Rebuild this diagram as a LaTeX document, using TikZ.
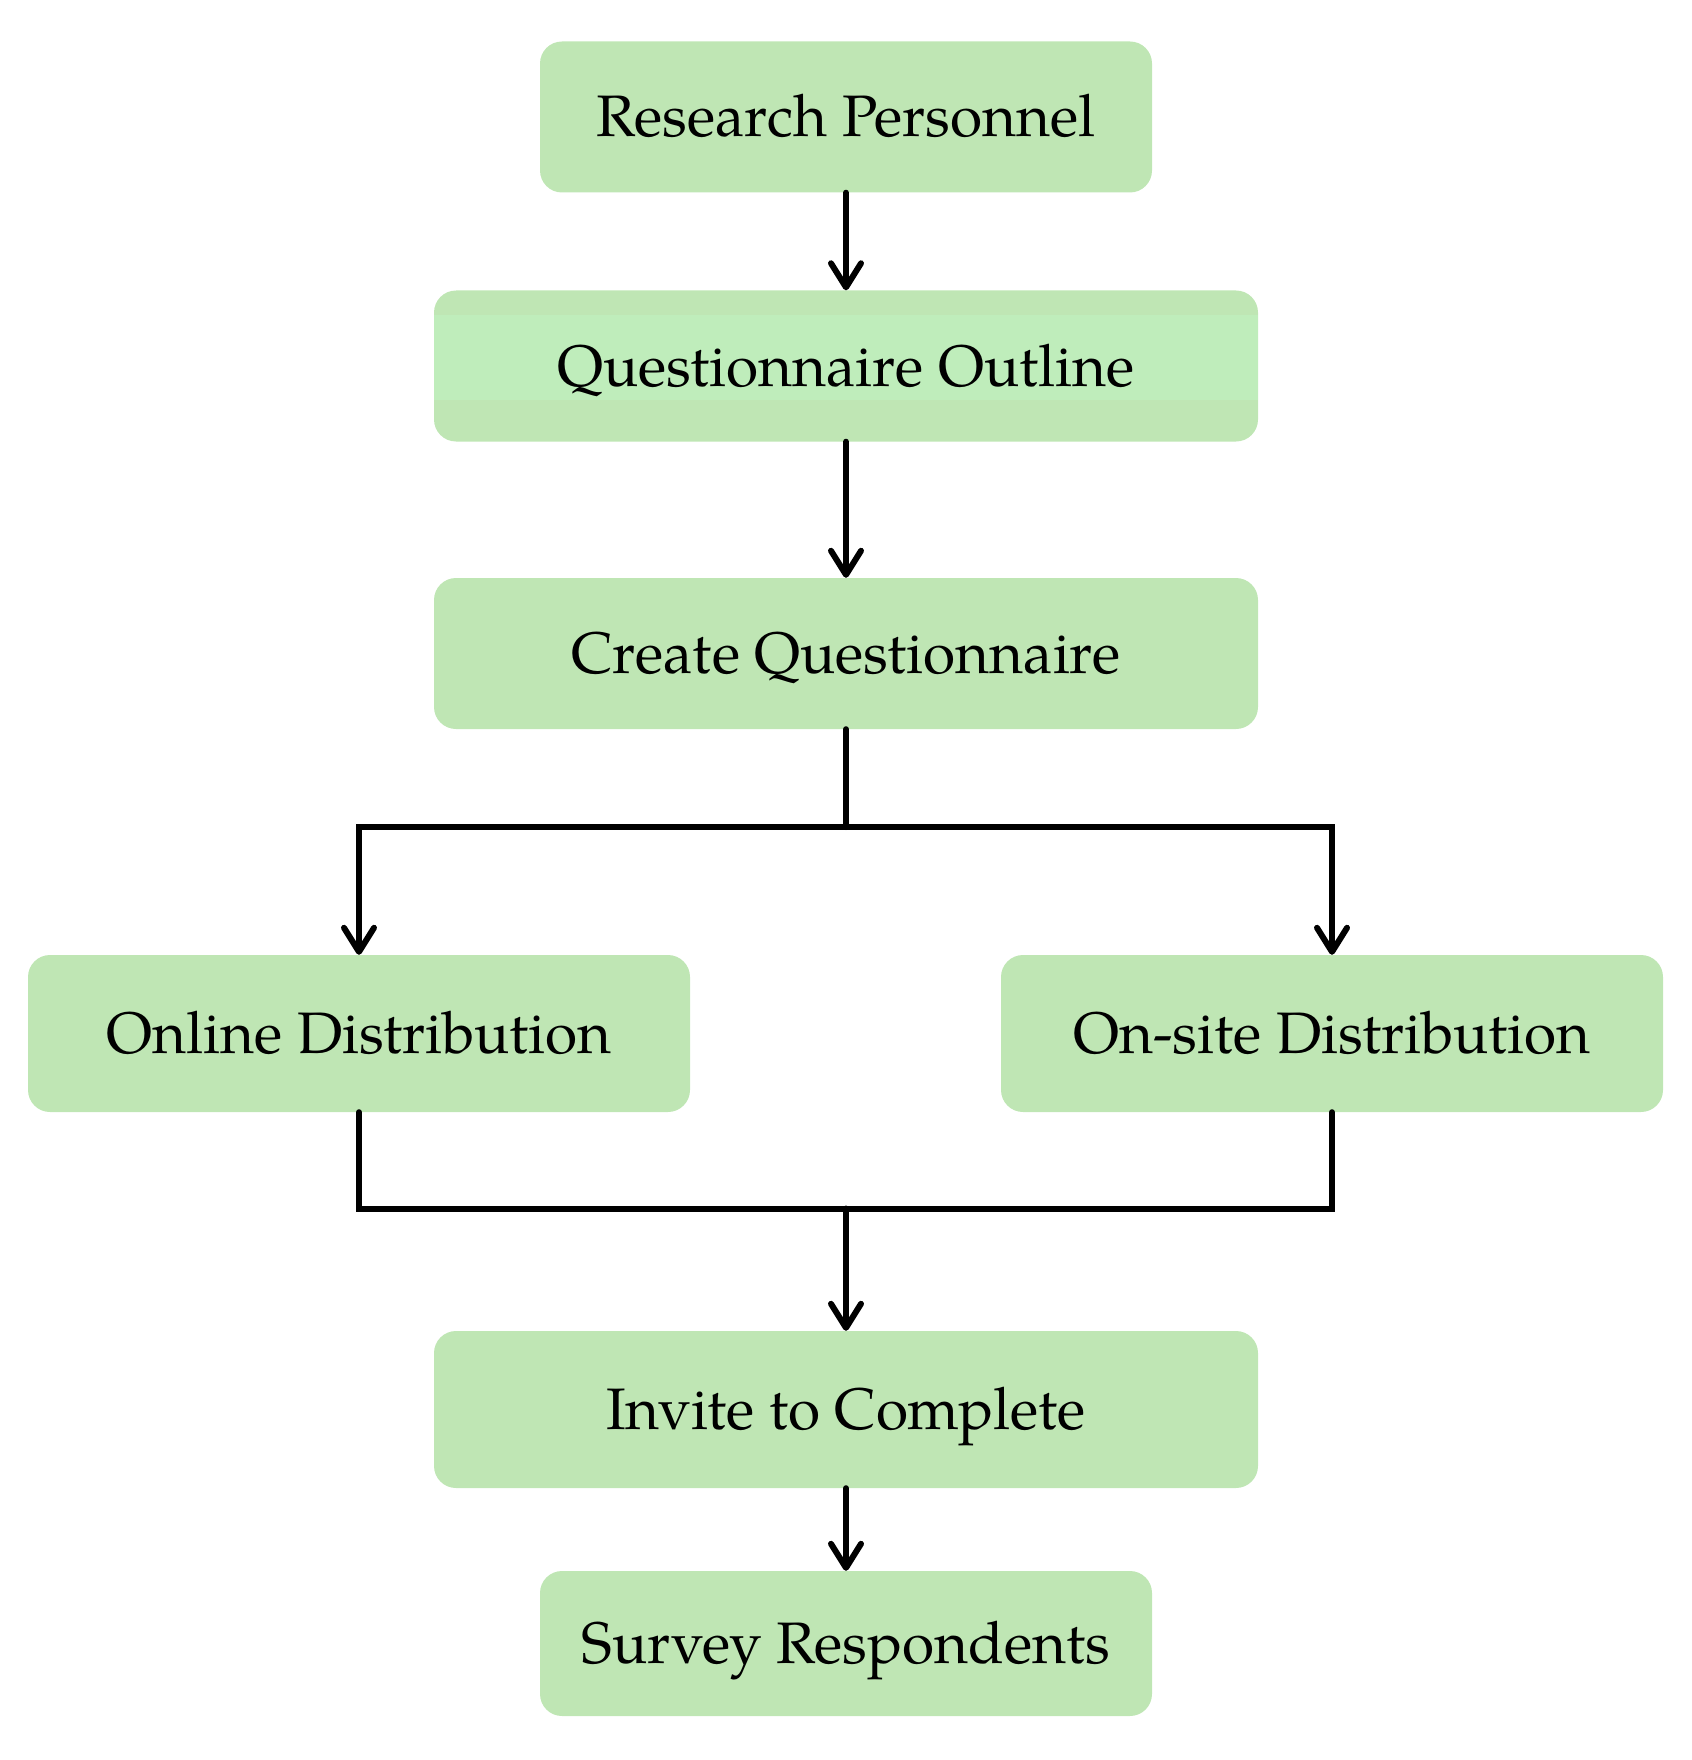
\documentclass[tikz,border=0pt]{standalone}
\usepackage{fontspec}
\setmainfont{TeX Gyre Pagella}
\usetikzlibrary{arrows.meta}
\definecolor{boxfill}{RGB}{191,230,180}
\definecolor{stripecol}{RGB}{191,237,187}
\tikzset{
  box/.style={fill=boxfill, rounded corners=22pt, inner sep=0pt, anchor=center,
    font=\fontsize{58.5}{68}\selectfont, text=black, text height=40pt, text depth=0pt},
  conn/.style={line width=6pt, draw=black, line cap=round, line join=miter},
  arr/.style={conn, -{Straight Barb[length=24pt,width=30pt,line width=6pt,round]}},
}
\begin{document}
\begin{tikzpicture}[x=1pt,y=-1pt]
\path[use as bounding box] (0,0) rectangle (1691,1760);
\node[box, minimum width=612pt, minimum height=151pt] (rp) at (846,117) {Research Personnel};
\node[box, minimum width=824pt, minimum height=151pt,
  path picture={\fill[stripecol, sharp corners] ([yshift=-24.5pt]path picture bounding box.north west) rectangle ([yshift=41.5pt]path picture bounding box.south east);}] (qo) at (846,366) {Questionnaire Outline};
\node[box, minimum width=824pt, minimum height=151pt] (cq) at (846,653.5) {Create Questionnaire};
\node[box, minimum width=662pt, minimum height=157pt] (od) at (359,1033.5) {Online Distribution};
\node[box, minimum width=662pt, minimum height=157pt] (osd) at (1332,1033.5) {On-site Distribution};
\node[box, minimum width=824pt, minimum height=157pt] (ic) at (846,1409.5) {Invite to Complete};
\node[box, minimum width=612pt, minimum height=145pt] (sr) at (846,1643.5) {Survey Respondents};
\coordinate (split) at (846,827);
\coordinate (merge) at (846,1208.5);
\draw[arr] (rp.south) -- (qo.north);
\draw[arr] (qo.south) -- (cq.north);
\draw[conn] (cq.south) -- (split);
\draw[arr] (split) -| (od.north);
\draw[arr] (split) -| (osd.north);
\draw[conn] (od.south) |- (merge);
\draw[conn] (osd.south) |- (merge);
\draw[arr] (merge) -- (ic.north);
\draw[arr] (ic.south) -- (sr.north);
\end{tikzpicture}
\end{document}
